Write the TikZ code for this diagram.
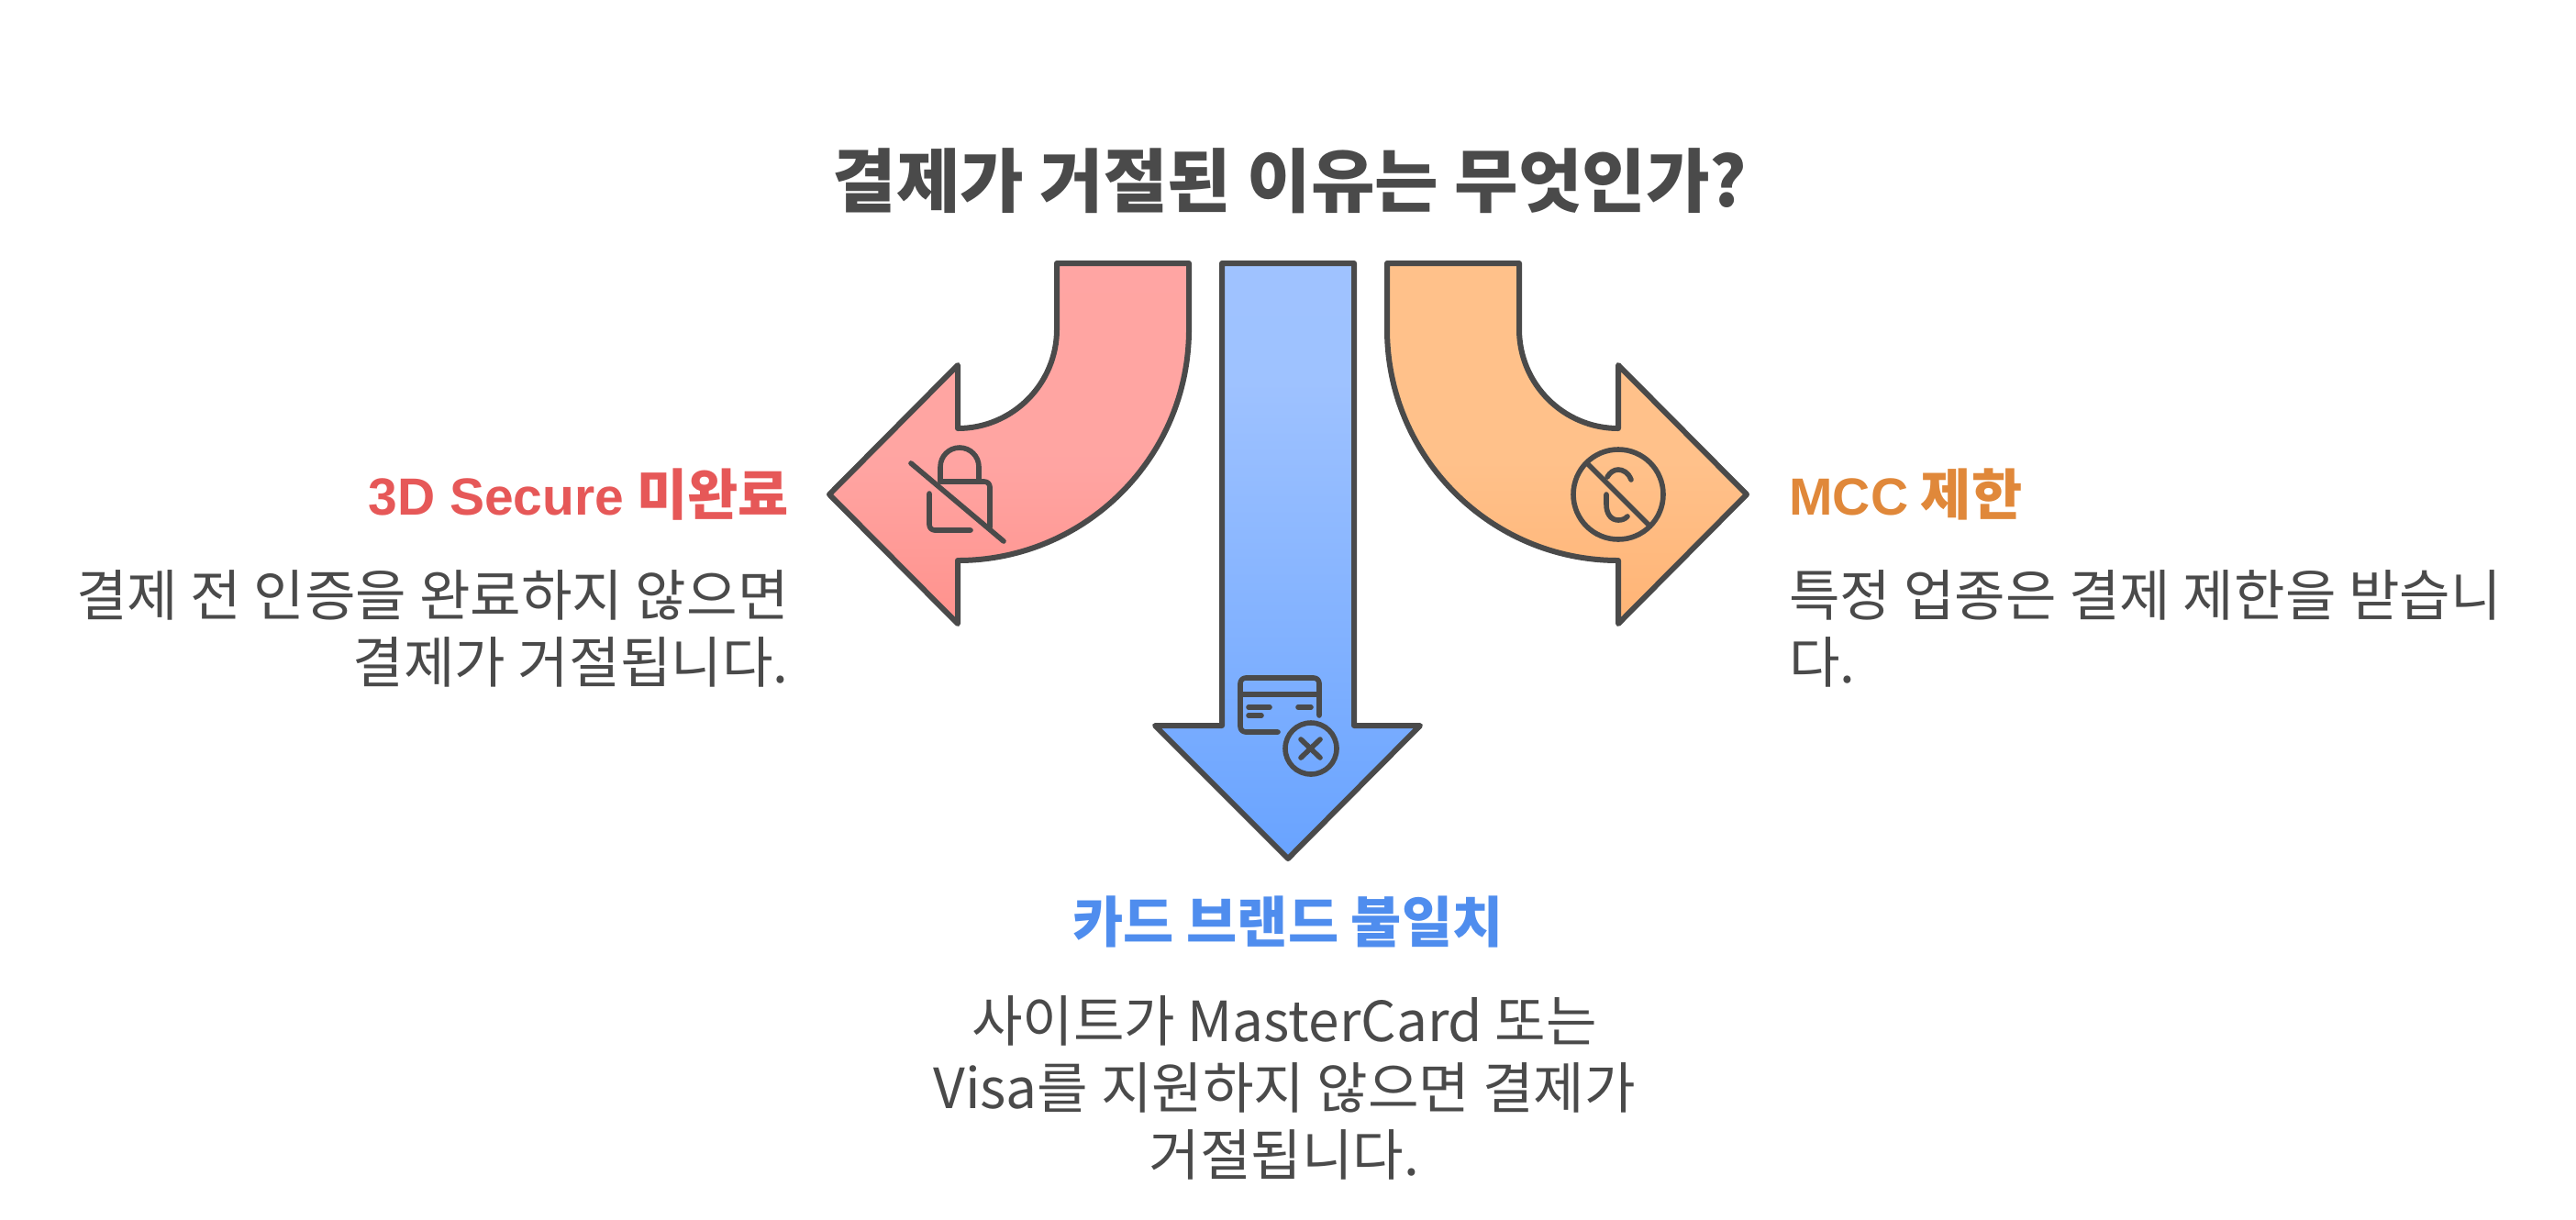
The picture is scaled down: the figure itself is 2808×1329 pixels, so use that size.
\documentclass[tikz,border=0pt]{standalone}
\usepackage{fontspec}
\setmainfont{Noto Sans CJK KR}
\newfontfamily\latinbold{Liberation Sans}[Scale=0.95]
\definecolor{inkgray}{HTML}{4A4A4A}
\definecolor{redhead}{HTML}{E65858}
\definecolor{bluehead}{HTML}{4F8DEE}
\definecolor{orangehead}{HTML}{E0883A}
\pgfdeclareverticalshading{redfill}{100bp}{rgb(0bp)=(1,0.57,0.55); rgb(25bp)=(1,0.57,0.55); rgb(47bp)=(1,0.645,0.635); rgb(100bp)=(1,0.65,0.64)}
\pgfdeclareverticalshading{bluefill}{100bp}{rgb(0bp)=(0.41,0.64,1); rgb(25bp)=(0.41,0.64,1); rgb(65bp)=(0.62,0.76,1); rgb(100bp)=(0.63,0.77,1)}
\pgfdeclareverticalshading{orangefill}{100bp}{rgb(0bp)=(1,0.705,0.46); rgb(25bp)=(1,0.705,0.46); rgb(47bp)=(1,0.755,0.54); rgb(100bp)=(1,0.76,0.54)}
\tikzset{
  arrowshape/.style={draw=inkgray,line width=3pt,line join=round,shade},
  iconline/.style={draw=inkgray,line width=2.8pt,line cap=round,line join=round},
  titletext/.style={text=inkgray,inner sep=0pt,font=\fontsize{37.8}{44}\selectfont\bfseries},
  headtext/.style={inner sep=0pt,font=\fontsize{30}{36}\selectfont\bfseries},
  bodytext/.style={text=inkgray,inner sep=0pt,font=\fontsize{30.2}{36.5}\selectfont}
}

\begin{document}
\begin{tikzpicture}[x=0.5pt,y=0.5pt,yscale=-1,xscale=1]
\useasboundingbox (0,0) rectangle (2808,1329);

%Shape: Left arrow
\draw [arrowshape,shading=redfill] (1152,287) -- (1296,287) -- (1296,359) .. controls (1296,498.2) and (1183.2,611) .. (1044,611) -- (1044,680) -- (904,539) -- (1044,398) -- (1044,467) .. controls (1103.6,467) and (1152,418.6) .. (1152,359) -- cycle ;
%Shape: Middle arrow
\draw [arrowshape,shading=bluefill] (1332,287) -- (1476,287) -- (1476,791) -- (1548,791) -- (1404,936) -- (1259,791) -- (1332,791) -- cycle ;
%Shape: Right arrow
\draw [arrowshape,shading=orangefill] (1656,287) -- (1512,287) -- (1512,359) .. controls (1512,498.2) and (1624.8,611) .. (1764,611) -- (1764,680) -- (1904,539) -- (1764,398) -- (1764,467) .. controls (1704.4,467) and (1656,418.6) .. (1656,359) -- cycle ;

%Icon: padlock
\draw [iconline] (1025,525) -- (1025,509) arc [start angle=180, end angle=360, radius=21] -- (1067,525) ;
\draw [iconline,rounded corners=3pt] (1025,525) -- (1079,525) -- (1079,575) ;
\draw [iconline,rounded corners=3pt] (1013,538) -- (1013,578) -- (1058,578) ;
\draw [iconline] (993,505) -- (1094,590) ;
%Icon: card
\draw [iconline,rounded corners=3pt] (1438,780) -- (1438,739) -- (1352,739) -- (1352,798) -- (1393,798) ;
\draw [iconline] (1352,757) -- (1438,757) ;
\draw [iconline] (1361,771) -- (1384,771) ;
\draw [iconline] (1361,780) -- (1375,780) ;
\draw [iconline] (1415,771) -- (1429,771) ;
\draw [iconline] (1429,816) circle [radius=28] ;
\draw [iconline] (1418,806) -- (1439,826) ;
\draw [iconline] (1439,806) -- (1418,826) ;
%Icon: fingerprint
\draw [iconline] (1764,539) circle [radius=49] ;
\draw [iconline] (1730,505) -- (1798,573) ;
\draw [iconline] (1778,523) .. controls (1775,515) and (1769,512) .. (1764,512) .. controls (1759,512) and (1755,515) .. (1752,520) ;
\draw [iconline] (1751,539) -- (1751,550) .. controls (1751,560) and (1756,567) .. (1764,567) .. controls (1768,567) and (1771,566) .. (1774,563) ;

% Text Node
\draw (1406,197) node (title) [titletext] {결제가 거절된 이유는 무엇인가?};
% Text Node
\draw (860,539) node (lefthead) [anchor=east,headtext,text=redhead] {{\latinbold 3D Secure} 미완료};
% Text Node
\draw (860,685) node (leftbody) [anchor=east,bodytext,align=right] {결제 전 인증을 완료하지 않으면\\결제가 거절됩니다.};
% Text Node
\draw (1404,1005) node (midhead) [headtext,text=bluehead] {카드 브랜드 불일치};
% Text Node
\draw (1400,1186) node (midbody) [bodytext,align=center] {사이트가 MasterCard 또는\\Visa를 지원하지 않으면 결제가\\거절됩니다.};
% Text Node
\draw (1950,539) node (righthead) [anchor=west,headtext,text=orangehead] {{\latinbold MCC} 제한};
% Text Node
\draw (1950,685) node (rightbody) [anchor=west,bodytext,align=left] {특정 업종은 결제 제한을 받습니\\다.};
\end{tikzpicture}
\end{document}
